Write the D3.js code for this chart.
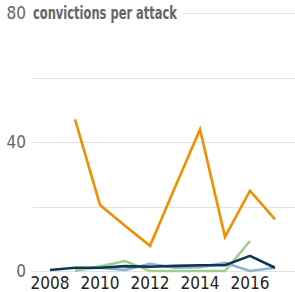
<!DOCTYPE html>
<html>
<meta charset="utf-8">
<style>
  body { margin: 0; background: #fff; }
  svg text { font-family: "Liberation Sans Narrow", "DejaVu Sans Condensed", sans-serif; }
  .grid line { stroke: #e3e3e3; stroke-width: 1; }
  .series { fill: none; stroke-width: 2.6; stroke-linejoin: miter; }
</style>
<body>
<script src="https://d3js.org/d3.v7.min.js"></script>
<script>
  let width = 295, height = 292;

  let years = [2008, 2009, 2010, 2011, 2012, 2013, 2014, 2015, 2016, 2017];
  let yGridTicks = [0, 20, 40, 60, 80];
  let yLabelTicks = [0, 40, 80];
  let xTicks = [2008, 2010, 2012, 2014, 2016];

  // convictions per attack, null = no data
  let orange = [null, 47, 20.5, 14, 7.8, 26, 43.9, 10.6, 24.9, 16];
  let green = [null, 0, 1.5, 3.1, 0, 0, 0, 0, 9.3, null];
  let lightBlue = [null, 0.5, 1, 0.3, 2.2, 1, 1.2, 2.5, 0, 1];
  let navy = [0.3, 1, 1, 1.5, 1.3, 1.6, 1.8, 1.8, 4.7, 1];

  let seriesList = [
    { values: lightBlue, color: "#8fb2cb" },
    { values: green, color: "#9dcf8c" },
    { values: orange, color: "#f28e00" },
    { values: navy, color: "#0e3557" }
  ];

  let x = d3.scaleLinear().domain([2008, 2017]).range([50, 275]);
  let y = d3.scaleLinear().domain([0, 80]).range([271, 13]);

  let svg = d3.select("body").append("svg")
    .attr("width", width)
    .attr("height", height);

  // gridlines
  svg.append("g")
    .attr("class", "grid")
    .selectAll("line")
    .data(yGridTicks)
    .join("line")
    .attr("x1", 33)
    .attr("x2", width)
    .attr("y1", d => Math.round(y(d)) + 0.5)
    .attr("y2", d => Math.round(y(d)) + 0.5);

  // y labels
  svg.append("g")
    .selectAll("text")
    .data(yLabelTicks)
    .join("text")
    .attr("x", 26)
    .attr("y", d => y(d))
    .attr("dy", "0.35em")
    .attr("text-anchor", "end")
    .attr("fill", "#666")
    .style("font-size", "17px")
    .text(d => d);

  // title with white backing over the top gridline
  let title = svg.append("text")
    .attr("x", 33)
    .attr("y", y(80))
    .attr("dy", "0.38em")
    .attr("fill", "#666")
    .attr("textLength", 144)
    .attr("lengthAdjust", "spacingAndGlyphs")
    .style("font-size", "17px")
    .style("font-weight", "bold")
    .text("convictions per attack");
  let bb = title.node().getBBox();
  svg.insert("rect", () => title.node())
    .attr("x", bb.x - 1)
    .attr("y", bb.y)
    .attr("width", bb.width + 6)
    .attr("height", bb.height)
    .attr("fill", "#fff");

  // x axis labels
  svg.append("g")
    .selectAll("text")
    .data(xTicks)
    .join("text")
    .attr("x", d => x(d))
    .attr("y", 289)
    .attr("text-anchor", "middle")
    .attr("fill", "#222")
    .style("font-size", "17px")
    .text(d => d);

  let line = d3.line()
    .defined(d => d.v != null)
    .x(d => x(d.year))
    .y(d => y(d.v));

  svg.append("g")
    .selectAll("path")
    .data(seriesList)
    .join("path")
    .attr("class", "series")
    .attr("stroke", d => d.color)
    .attr("d", d => line(years.map((yr, i) => ({ year: yr, v: d.values[i] }))));
</script>
</body>
</html>
